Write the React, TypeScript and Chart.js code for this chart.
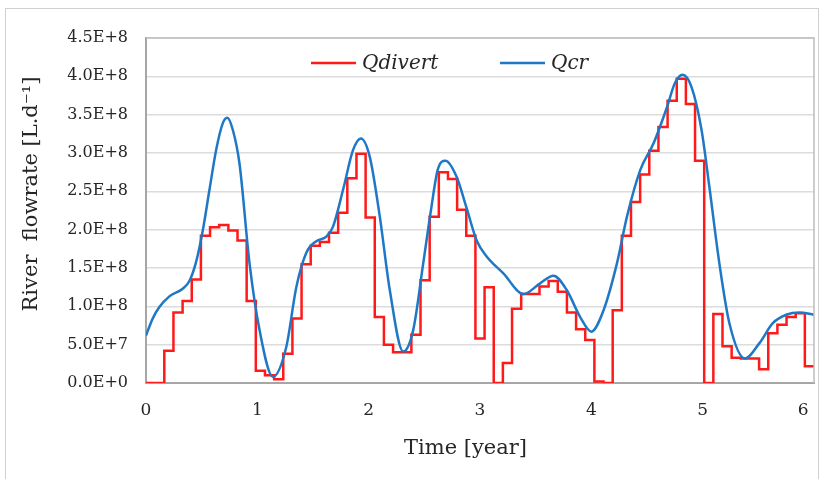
import React, { useEffect, useRef } from "react";
import { Chart, registerables } from "chart.js";

Chart.register(...registerables);

// ---- data (flow values in units of 1E+8 L/d) ----
const STEP_DAYS = 30; // Qdivert changes every 30 days
const DAYS_PER_YEAR = 365;

const qdivertMonthly: number[] = [
  0, 0, 0.42, 0.92, 1.07, 1.35, 1.92, 2.03, 2.06, 1.99, 1.86, 1.07,
  0.16, 0.10, 0.05, 0.38, 0.84, 1.55, 1.79, 1.84, 1.96, 2.22, 2.67, 2.99,
  2.16, 0.86, 0.50, 0.40, 0.40, 0.63, 1.34, 2.17, 2.75, 2.66, 2.26, 1.92,
  0.58, 1.25, 0.0, 0.26, 0.97, 1.16, 1.16, 1.26, 1.33, 1.19, 0.92, 0.70,
  0.56, 0.02, 0.0, 0.95, 1.92, 2.36, 2.72, 3.03, 3.34, 3.68, 3.97, 3.64,
  2.90, 0.0, 0.90, 0.48, 0.33, 0.32, 0.32, 0.18, 0.65, 0.76, 0.86, 0.91,
  0.22,
];

const qcrTime: number[] = [
  0.00, 0.06, 0.12, 0.21, 0.33, 0.39, 0.45, 0.51, 0.57, 0.63, 0.69, 0.73,
  0.78, 0.84, 0.93, 1.02, 1.14, 1.26, 1.35, 1.44, 1.53, 1.62, 1.68, 1.77,
  1.86, 1.93, 2.01, 2.10, 2.19, 2.31, 2.40, 2.49, 2.56, 2.62, 2.69, 2.79,
  2.88, 2.97, 3.06, 3.21, 3.39, 3.54, 3.66, 3.78, 3.90, 4.00, 4.11, 4.23,
  4.32, 4.44, 4.56, 4.68, 4.75, 4.82, 4.90, 4.99, 5.06, 5.15, 5.24, 5.38,
  5.51, 5.63, 5.75, 5.87, 6.00,
];
const qcrValue: number[] = [
  0.62, 0.84, 0.99, 1.13, 1.23, 1.33, 1.58, 1.99, 2.52, 3.04, 3.39, 3.46,
  3.30, 2.86, 1.56, 0.69, 0.08, 0.47, 1.25, 1.70, 1.85, 1.91, 2.04, 2.52,
  3.04, 3.19, 2.95, 2.17, 1.21, 0.41, 0.69, 1.56, 2.26, 2.78, 2.90, 2.69,
  2.28, 1.86, 1.65, 1.43, 1.16, 1.30, 1.40, 1.21, 0.86, 0.67, 0.95, 1.56,
  2.17, 2.78, 3.13, 3.60, 3.91, 4.02, 3.86, 3.30, 2.56, 1.56, 0.78, 0.32,
  0.52, 0.78, 0.89, 0.92, 0.89,
];

const yTickLabels = [
  "0.0E+0", "5.0E+7", "1.0E+8", "1.5E+8", "2.0E+8",
  "2.5E+8", "3.0E+8", "3.5E+8", "4.0E+8", "4.5E+8",
];
const xTickLabels = ["0", "1", "2", "3", "4", "5", "6"];
const seriesNames = ["Qdivert", "Qcr"];
const yTitle = "River  flowrate [L.d\u207B\u00B9]";
const xTitle = "Time [year]";

const RED = "#ff1a1a";
const BLUE = "#1f78c6";
const FONT = "'DejaVu Serif', serif";

const overlayPlugin = {
  id: "overlay",
  afterDraw(chart: any) {
    const { ctx, chartArea } = chart;
    const { left, right, top, bottom } = chartArea;
    ctx.save();
    // top + right frame of the plot area
    ctx.strokeStyle = "#bdbdbd";
    ctx.lineWidth = 1.5;
    ctx.beginPath();
    ctx.moveTo(left, top);
    ctx.lineTo(right, top);
    ctx.lineTo(right, bottom);
    ctx.stroke();

    // legend
    const ly = top + 25;
    const items = [
      { name: seriesNames[0], color: RED, x0: left + 165 },
      { name: seriesNames[1], color: BLUE, x0: left + 354 },
    ];
    ctx.font = `italic 20px ${FONT}`;
    ctx.textBaseline = "middle";
    ctx.textAlign = "left";
    for (const it of items) {
      ctx.strokeStyle = it.color;
      ctx.lineWidth = 2.5;
      ctx.beginPath();
      ctx.moveTo(it.x0, ly);
      ctx.lineTo(it.x0 + 45, ly);
      ctx.stroke();
      ctx.fillStyle = "#262626";
      ctx.fillText(it.name, it.x0 + 51, ly + 1);
    }

    // axis titles
    ctx.fillStyle = "#262626";
    ctx.font = `21px ${FONT}`;
    ctx.textAlign = "center";
    ctx.textBaseline = "middle";
    ctx.fillText(xTitle, 465.5, 449);
    ctx.save();
    ctx.translate(32, 194);
    ctx.rotate(-Math.PI / 2);
    ctx.fillText(yTitle, 0, 0);
    ctx.restore();
    ctx.restore();
  },
};

export default function App() {
  const ref = useRef<HTMLCanvasElement>(null);

  useEffect(() => {
    if (!ref.current) return;
    const stepYear = STEP_DAYS / DAYS_PER_YEAR;
    const divertPts = qdivertMonthly.map((v, i) => ({ x: i * stepYear, y: v }));
    divertPts.push({ x: qdivertMonthly.length * stepYear, y: qdivertMonthly[qdivertMonthly.length - 1] });
    const qcrPts = qcrTime.map((t, i) => ({ x: t, y: qcrValue[i] }));

    const chart = new Chart(ref.current, {
      type: "line",
      data: {
        datasets: [
          {
            label: seriesNames[0],
            data: divertPts,
            borderColor: RED,
            borderWidth: 2.5,
            pointRadius: 0,
            stepped: true,
            fill: false,
            order: 1,
          },
          {
            label: seriesNames[1],
            data: qcrPts,
            borderColor: BLUE,
            borderWidth: 2.5,
            pointRadius: 0,
            cubicInterpolationMode: "monotone",
            fill: false,
            order: 0,
          },
        ],
      },
      options: {
        responsive: false,
        animation: false,
        layout: { padding: { left: 0, right: 12, top: 38, bottom: 0 } },
        plugins: { legend: { display: false }, tooltip: { enabled: false } },
        scales: {
          x: {
            type: "linear",
            min: 0,
            max: 6,
            afterFit: (s: any) => {
              s.height = 96;
              s.paddingLeft = 0;
              s.paddingRight = 0;
            },
            grid: { display: false, drawTicks: false },
            border: { display: true, color: "#a6a6a6", width: 2 },
            ticks: {
              stepSize: 1,
              padding: 17,
              color: "#262626",
              font: { family: FONT, size: 17 },
              callback: (v: any) => {
                const i = Math.round(Number(v));
                const label = xTickLabels[i] ?? "";
                // last label is pulled inside the frame, as in the original
                return i === xTickLabels.length - 1 ? label + "\u2007\u2007" : label;
              },
            },
          },
          y: {
            min: 0,
            max: 4.5,
            afterFit: (s: any) => {
              s.width = 146;
              s.paddingTop = 0;
              s.paddingBottom = 0;
            },
            grid: { color: "#dcdcdc", lineWidth: 1.5, drawTicks: false },
            border: { display: true, color: "#a6a6a6", width: 2 },
            ticks: {
              stepSize: 0.5,
              padding: 18,
              color: "#262626",
              font: { family: FONT, size: 16 },
              callback: (v: any) => yTickLabels[Math.round(Number(v) * 2)] ?? "",
            },
          },
        },
      },
      plugins: [overlayPlugin],
    });
    return () => chart.destroy();
  }, []);

  return (
    <div style={{ position: "absolute", left: 0, top: 0, width: 826, height: 479, background: "#fff", overflow: "hidden" }}>
      <div style={{ position: "absolute", left: 5, top: 8, width: 812, height: 490, border: "1px solid #d0d0d0" }} />
      <canvas ref={ref} width={826} height={479} style={{ position: "absolute", left: 0, top: 0, width: 826, height: 479 }} />
    </div>
  );
}
